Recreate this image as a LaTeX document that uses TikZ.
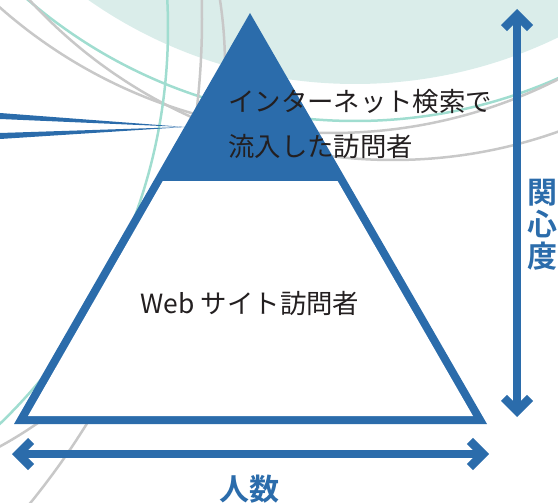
\documentclass[tikz,border=0pt]{standalone}
\usepackage{fontspec}
\usepackage{xcolor}
\usepackage{tikz}
\usetikzlibrary{arrows.meta}
\newfontfamily\jpfont[BoldFont={Noto Sans CJK JP Bold}]{Noto Sans CJK JP}
\definecolor{pyramidblue}{RGB}{43,108,171}
\definecolor{skyteal}{RGB}{218,237,234}
\definecolor{arcteal}{RGB}{160,221,208}
\definecolor{arcgray}{RGB}{200,200,200}
\definecolor{labelink}{RGB}{35,31,32}
\tikzset{
  arcline/.style={line width=2.5pt},
  axisarrow/.style={draw=pyramidblue, line width=8.5pt, {Straight Barb[length=13pt,width=26pt]}-{Straight Barb[length=13pt,width=26pt]}},
  axislabel/.style={text=pyramidblue, font=\jpfont\bfseries\fontsize{30}{32}\selectfont, inner sep=0pt},
  toplabel/.style={text=labelink, font=\jpfont\fontsize{26.4}{28}\selectfont, inner sep=0pt, anchor=west},
}
\begin{document}
\begin{tikzpicture}[x=1pt,y=-1pt]
\useasboundingbox (0,0) rectangle (558,503);

\begin{scope}
\clip (0,0) rectangle (558,503);
\fill[skyteal] (355,-381) circle[radius=465pt];
\draw[arcline,arcteal] (355,-381) circle[radius=502pt];
\draw[arcline,arcgray] (332,-369) circle[radius=502pt];
\draw[arcline,arcgray] (393,-333) circle[radius=493pt];
\draw[arcline,arcteal] (-382,28) circle[radius=550pt];
\draw[arcline,arcgray] (-566,19) circle[radius=768pt];
\draw[arcline,arcgray] (-209,66) circle[radius=434pt];
\end{scope}

\fill[pyramidblue] (0,113)--(185,127)--(0,119)--cycle;
\fill[pyramidblue] (0,133)--(185,127)--(0,139)--cycle;

\fill[pyramidblue] (250,13)--(487,424)--(14,424)--cycle;
\begin{scope}
\clip (0,182) rectangle (558,503);
\fill[white] (250,29)--(473,416)--(28,416)--cycle;
\end{scope}

\node[toplabel] (search) at (228,102) {インターネット検索で};
\node[toplabel] (inflow) at (228,146) {流入した訪問者};
\node[toplabel, anchor=center] (visitors) at (250,303) {Web サイト訪問者};

\coordinate (high) at (517,9);
\coordinate (low) at (517,417);
\coordinate (few) at (12,454);
\coordinate (many) at (489,454);
\draw[axisarrow] (low)--(high);
\draw[axisarrow] (few)--(many);

\node[axislabel, align=center] (interest) at (542,225) {関\\心\\度};
\node[axislabel] (people) at (249,489) {人数};
\end{tikzpicture}
\end{document}
